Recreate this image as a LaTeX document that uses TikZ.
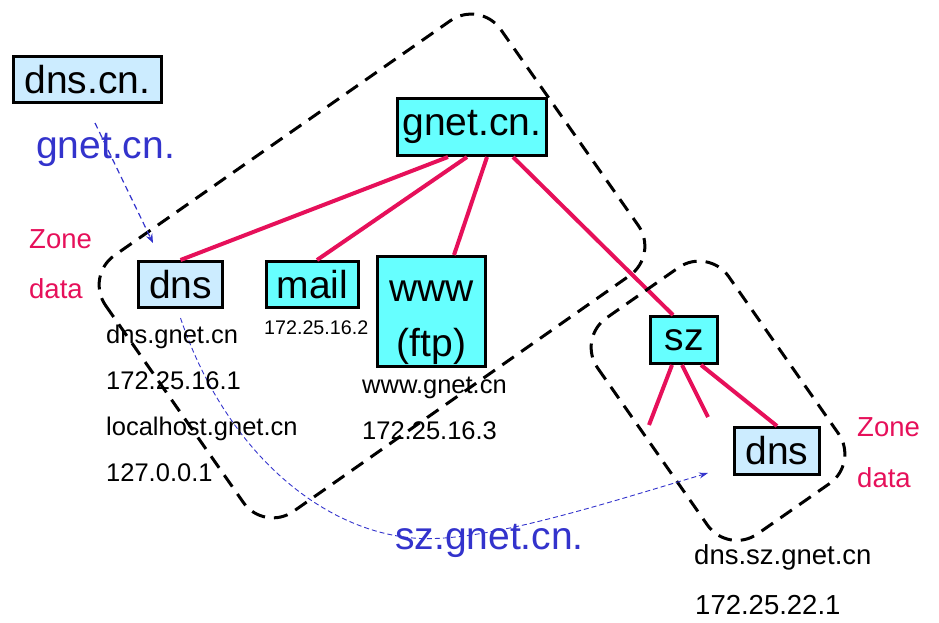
\documentclass[tikz,border=0pt]{standalone}
\usepackage{fontspec}
\setmainfont{Liberation Sans}
\usetikzlibrary{arrows.meta}
\definecolor{boxcyan}{RGB}{102,255,255}
\definecolor{boxblue}{RGB}{204,236,255}
\definecolor{linkpink}{RGB}{230,16,90}
\definecolor{labelblue}{RGB}{51,51,204}
\begin{document}
\begin{tikzpicture}[x=1pt,y=-1pt,
  box/.style={draw=black,line width=3pt,inner sep=0pt,align=center,font=\fontsize{39}{55}\selectfont},
  cyanbox/.style={box,fill=boxcyan},
  bluebox/.style={box,fill=boxblue},
  link/.style={draw=linkpink,line width=4pt},
  zone/.style={draw=black,line width=3pt,dash pattern=on 14pt off 9pt,rounded corners=36pt},
  info/.style={anchor=base west,inner sep=0pt,font=\fontsize{25.5}{30}\selectfont},
  zonelbl/.style={anchor=base west,inner sep=0pt,text=linkpink,font=\fontsize{27.5}{30}\selectfont},
  domlbl/.style={anchor=base west,inner sep=0pt,text=labelblue,font=\fontsize{39}{44}\selectfont},
  deleg/.style={draw=labelblue,-{Stealth[length=9pt,width=7pt]}},
]
\useasboundingbox (0,0) rectangle (939,623);

% boxes
\node[bluebox,minimum width=148pt,minimum height=46pt] (dnscn) at (87.5,79.5) {dns.cn.};
\node[cyanbox,minimum width=149pt,minimum height=57pt] (gnet) at (472,127) {gnet.cn.};
\node[bluebox,minimum width=84pt,minimum height=46pt] (dnsL) at (180.5,284.5) {dns};
\node[cyanbox,minimum width=92pt,minimum height=46pt] (mail) at (312.5,284.5) {mail};
\node[cyanbox,minimum width=108pt,minimum height=100pt] (www) at (431.5,311.5)
  {\raisebox{-6pt}[\height][\depth]{\begin{tabular}{@{}c@{}}www\\(ftp)\end{tabular}}};
\node[cyanbox,minimum width=67pt,minimum height=47pt] (sz) at (684,340) {sz};
\node[bluebox,minimum width=85pt,minimum height=47pt] (dnsR) at (777,451) {dns};

% free ends
\coordinate (b1) at (649,425);
\coordinate (b2) at (708,417);
\coordinate (a1s) at (95,123);
\coordinate (a1e) at (153,243);
\coordinate (a2e) at (708,473);

% links
\draw[link] ([xshift=-24pt]gnet.south) -- (dnsL.north);
\draw[link] ([xshift=-5pt]gnet.south) -- ([xshift=4.5pt]mail.north);
\draw[link] ([xshift=15pt]gnet.south) -- ([xshift=22.5pt]www.north);
\draw[link] ([xshift=41pt]gnet.south) -- ([xshift=-11pt]sz.north);
\draw[link] ([xshift=-12pt]sz.south) -- (b1);
\draw[link] ([xshift=-2pt]sz.south) -- (b2);
\draw[link] ([xshift=17pt]sz.south) -- (dnsR.north);

% zones
\draw[zone] (85,276) -- (264,532) -- (659,255) -- (480,0) -- cycle;
\draw[zone] (577,338.5) -- (728,554.5) -- (859,463) -- (708,247) -- cycle;

% delegation arrows
\draw[deleg,line width=1.2pt,dash pattern=on 6pt off 4pt] (a1s) -- (a1e);
\draw[deleg,line width=0.9pt,dash pattern=on 5pt off 3pt,-{Stealth[length=9pt,width=6pt]}]
  ([yshift=-9pt]dnsL.south) .. controls (225,450) and (320,530) .. (413,538)
  .. controls (480,544) and (600,505) .. (a2e);

% labels
\node[domlbl] (lg) at (36,158) {gnet.cn.};
\node[domlbl] (lsz) at (395,549) {sz.gnet.cn.};
\node[zonelbl] (z1) at (29,248) {Zone};
\node[zonelbl] (d1) at (29,298) {data};
\node[zonelbl] (z2) at (857,436) {Zone};
\node[zonelbl] (d2) at (857,487) {data};

\node[info] (i1) at (106,343) {dns.gnet.cn};
\node[info] (i2) at (106,389) {172.25.16.1};
\node[info] (i3) at (106,435) {localhost.gnet.cn};
\node[info] (i4) at (106,481) {127.0.0.1};
\node[info,font=\fontsize{19.7}{24}\selectfont] (i5) at (264,334) {172.25.16.2};
\node[info] (i6) at (362,393) {www.gnet.cn};
\node[info] (i7) at (362,439) {172.25.16.3};
\node[info,font=\fontsize{27.5}{30}\selectfont] (i8) at (694,564) {dns.sz.gnet.cn};
\node[info,font=\fontsize{27.5}{30}\selectfont] (i9) at (695,614) {172.25.22.1};
\end{tikzpicture}
\end{document}
